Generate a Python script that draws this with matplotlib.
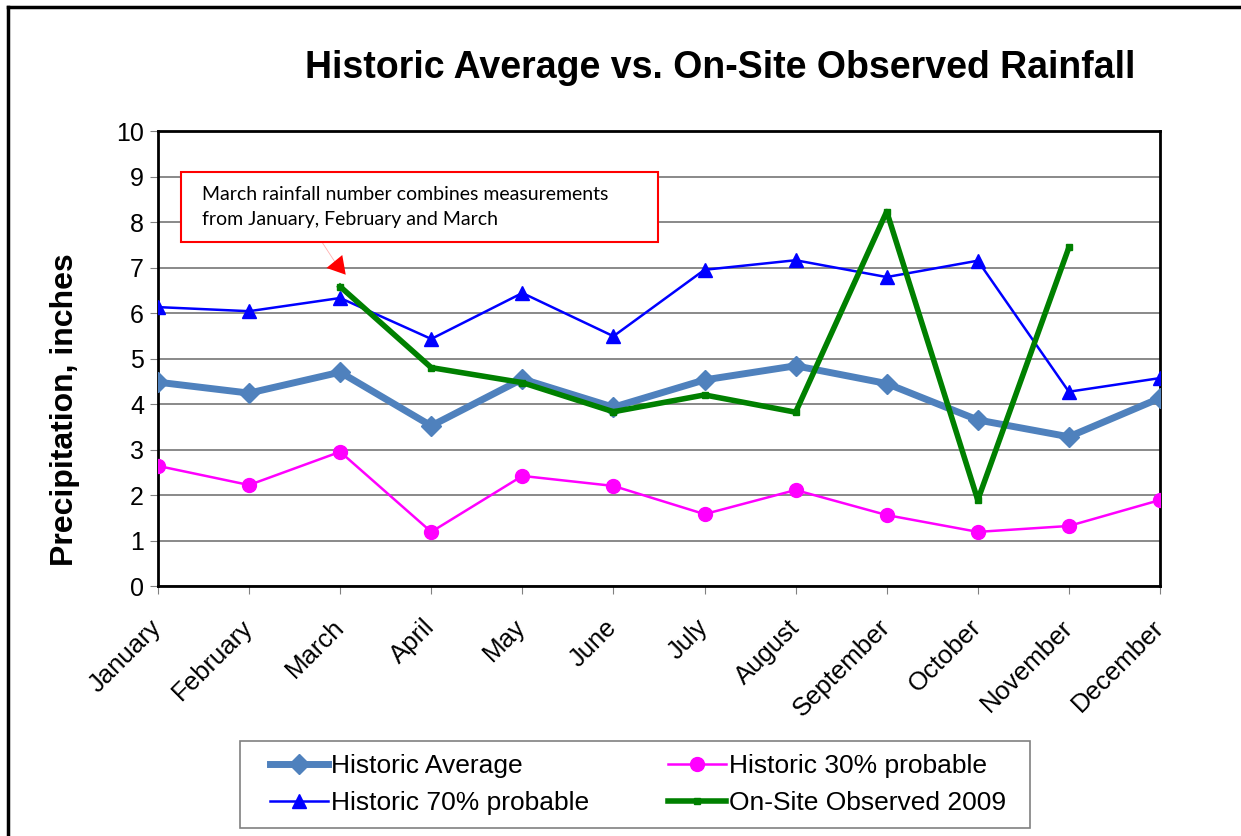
import matplotlib
matplotlib.use('Agg')
import matplotlib.pyplot as plt
from matplotlib.lines import Line2D
from matplotlib.patches import Rectangle

months = ['January', 'February', 'March', 'April', 'May', 'June', 'July',
          'August', 'September', 'October', 'November', 'December']

hist_avg = [4.48, 4.24, 4.70, 3.52, 4.55, 3.93, 4.53, 4.84, 4.45, 3.65, 3.28, 4.13]
hist_30 = [2.64, 2.22, 2.95, 1.19, 2.42, 2.20, 1.58, 2.11, 1.56, 1.19, 1.32, 1.89]
hist_70 = [6.13, 6.04, 6.33, 5.43, 6.44, 5.49, 6.95, 7.16, 6.79, 7.15, 4.27, 4.57]
observed = [None, None, 6.58, 4.80, 4.47, 3.83, 4.20, 3.82, 8.23, 1.89, 7.44, None]

plt.rcParams['font.family'] = ['Liberation Sans', 'DejaVu Sans']

fig = plt.figure(figsize=(12.41, 8.36), dpi=100)
ax = fig.add_axes([0.1273, 0.299, 0.8074, 0.5443])

x = list(range(len(months)))
obs_x = [i for i, v in zip(x, observed) if v is not None]
obs_y = [v for v in observed if v is not None]

l_avg, = ax.plot(x, hist_avg, color='#4F81BD', lw=5, marker='D', ms=10,
                 label='Historic Average', zorder=3)
l_30, = ax.plot(x, hist_30, color='#FF00FF', lw=1.8, marker='o', ms=10,
                label='Historic 30% probable', zorder=3)
l_70, = ax.plot(x, hist_70, color='#0000FF', lw=1.8, marker='^', ms=10,
                label='Historic 70% probable', zorder=4)
l_obs, = ax.plot(obs_x, obs_y, color='#008000', lw=4, marker='s', ms=5,
                 label='On-Site Observed 2009', zorder=5)

ax.set_xlim(0, 11)
ax.set_ylim(0, 10)
ax.set_yticks(range(0, 11))
ax.set_xticks(x)
ax.set_xticklabels(months, rotation=45, ha='right', va='center',
                   rotation_mode='anchor', fontsize=18.5)
ax.tick_params(axis='y', labelsize=18, length=6, color='#808080', pad=4)
ax.tick_params(axis='x', length=6, color='#808080', pad=21)
ax.grid(axis='y', color='#808080', lw=1.3)
ax.set_axisbelow(True)
for s in ax.spines.values():
    s.set_linewidth(2)
    s.set_color('black')

ax.set_ylabel('Precipitation, inches', fontsize=23, fontweight='bold')
ax.yaxis.set_label_coords(-0.078, 0.387)

fig.text(0.58, 0.919, 'Historic Average vs. On-Site Observed Rainfall',
         ha='center', va='center', fontsize=27, fontweight='bold')

# note about March: box, text, faint leader and red arrow head
ax.add_patch(Rectangle((0.25, 7.56), 5.24, 1.54, fc='white', ec='red', lw=1.5,
                       zorder=6, clip_on=False))
ax.text(0.483, 8.33, 'March rainfall number combines measurements\nfrom January, February and March',
        fontsize=14, family=['Lato', 'DejaVu Sans'], va='center', ha='left',
        linespacing=1.6, zorder=7)
ax.annotate('', xy=(1.95, 7.1), xytext=(1.8, 7.56),
            arrowprops=dict(arrowstyle='-', color='#FFB0B0', lw=0.6, shrinkA=0, shrinkB=0))
ax.annotate('', xy=(1.85, 6.99), xytext=(2.02, 7.05),
            arrowprops=dict(arrowstyle='-|>,head_length=0.8,head_width=0.45', color='red',
                            lw=0, mutation_scale=16, shrinkA=0, shrinkB=0), zorder=6)

# legend box drawn separately so its padding can match the original
fig.add_artist(Rectangle((240 / 1241, 8 / 836), 790 / 1241, 87 / 836, fc='white',
                         ec='#808080', lw=1.2, transform=fig.transFigure))
leg = fig.legend([l_avg, l_70, l_30, l_obs],
                 ['Historic Average', 'Historic 70% probable',
                  'Historic 30% probable', 'On-Site Observed 2009'],
                 ncol=2, loc='center', bbox_to_anchor=(0.514, 0.0616),
                 fontsize=19, frameon=False,
                 handlelength=2.2, handletextpad=0.1, columnspacing=3.0,
                 labelspacing=0.5, borderpad=0.4, borderaxespad=0)

# outer chart frame (left and top edges visible)
fig.add_artist(Line2D([0.0065, 0.0065], [0, 0.992], color='black', lw=2.5, transform=fig.transFigure))
fig.add_artist(Line2D([0.0065, 1.0], [0.992, 0.992], color='black', lw=2.5, transform=fig.transFigure))

fig.savefig('out.png', dpi=100)
